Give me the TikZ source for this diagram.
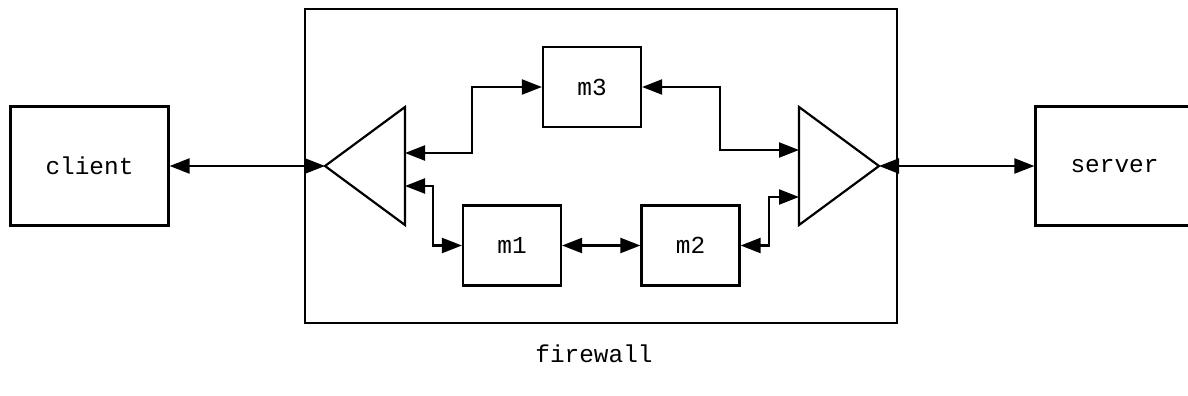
\documentclass[tikz,border=0pt]{standalone}
\usepackage{fontspec}
\setmonofont{Liberation Mono}
\usetikzlibrary{arrows.meta,positioning}

\begin{document}
\begin{tikzpicture}[x=0.5pt, y=-0.5pt, line width=1.1pt,
    font=\ttfamily\fontsize{12.2}{14}\selectfont,
    box/.style={rectangle, draw, minimum width=49pt, minimum height=40pt},
    endbox/.style={rectangle, draw, minimum width=79pt, minimum height=59.5pt},
    arrow/.style={{Triangle[length=10pt,width=7.5pt]}-{Triangle[length=10pt,width=7.5pt]}, line width=1.1pt}]

    \useasboundingbox (0,0) rectangle (1188,396);

    \node[rectangle, draw, minimum width=296pt, minimum height=157pt] (firewall) at (601,166) {};
    \node (fwlabel) at (594,354) {firewall};

    \node[endbox] (client) at (89.5,166) {client};
    \node[endbox] (server) at (1114.5,166) {server};

    \node[box] (m3) at (592,87) {m3};
    \node[box] (m1) at (512,245.5) {m1};
    \node[box] (m2) at (690.5,245.5) {m2};

    \draw (405,107) -- (325,166) -- (405,225) -- cycle;
    \draw (799,107) -- (879,166) -- (799,225) -- cycle;
    \coordinate (ltip) at (325,166);
    \coordinate (rtip) at (879,166);
    \coordinate (lt1) at (405,153);
    \coordinate (lt2) at (405,186);
    \coordinate (rt1) at (799,150);
    \coordinate (rt2) at (799,197);

    \draw[arrow] (client) -- (ltip);
    \draw[arrow] (rtip) -- (server);
    \draw[arrow] (lt1) -- ++(67,0) |- (m3.west);
    \draw[arrow] (lt2) -- ++(28,0) |- (m1.west);
    \draw[arrow] (m1) -- (m2);
    \draw[arrow] (m3.east) -- ++(78,0) |- (rt1);
    \draw[arrow] (m2.east) -- ++(28,0) |- (rt2);

\end{tikzpicture}
\end{document}
